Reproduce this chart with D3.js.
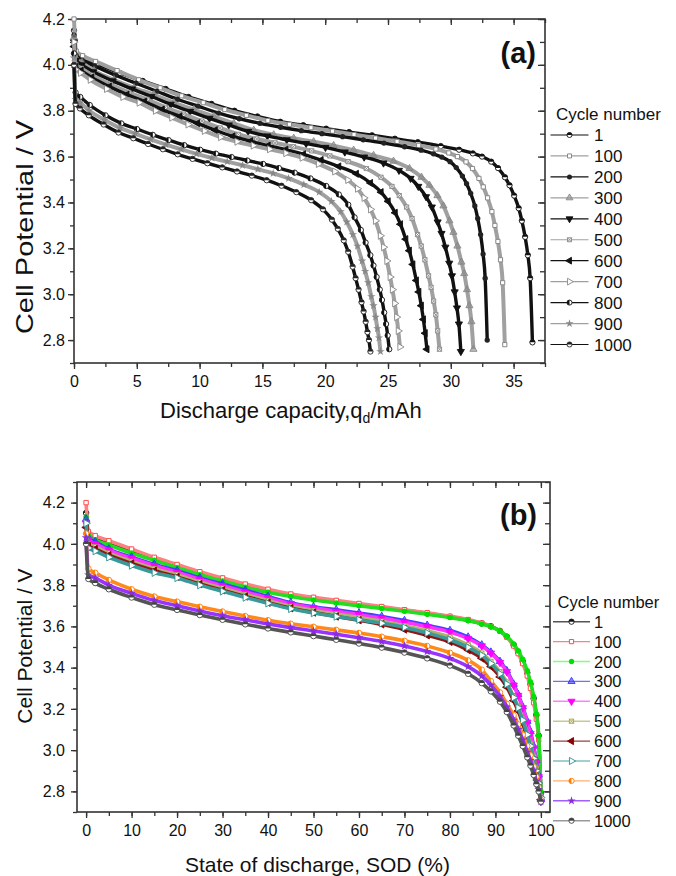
<!DOCTYPE html>
<html><head><meta charset="utf-8">
<script src="https://cdn.jsdelivr.net/npm/d3@7"></script>
<style>
body{margin:0;background:#fff}
text{font-family:"Liberation Sans",Arial,sans-serif;fill:#111}
</style>
</head><body>
<svg id="c" width="676" height="876"></svg>
<script>
// ---------------- data ----------------
const cycles = ["1","100","200","300","400","500","600","700","800","900","1000"];
const capacity = [36.5, 34.3, 32.9, 31.8, 30.8, 29.1, 28.1, 25.95, 25.1, 24.4, 23.6]; // mAh at end of discharge
const sod = [0, 0.5, 2, 5, 10, 15, 20, 25, 30, 35, 40, 45, 50, 55, 60, 65, 70, 75, 80, 84, 87, 89, 91, 92.5, 94, 95, 96, 97, 97.7, 98.4, 99, 99.5, 100];
const v1    = [4.15,4.05,4.03,4.005,3.965,3.93,3.895,3.86,3.83,3.80,3.775,3.752,3.737,3.722,3.707,3.693,3.678,3.663,3.646,3.63,3.614,3.60,3.578,3.55,3.51,3.475,3.43,3.375,3.32,3.25,3.17,3.07,2.79];
const v100  = [4.20,4.06,4.04,4.015,3.975,3.935,3.90,3.865,3.835,3.805,3.78,3.757,3.741,3.726,3.711,3.696,3.681,3.666,3.649,3.633,3.616,3.60,3.577,3.548,3.505,3.468,3.42,3.36,3.30,3.23,3.15,3.05,2.78];
const v200  = [4.13,4.04,4.02,3.995,3.955,3.92,3.885,3.85,3.82,3.79,3.765,3.745,3.728,3.713,3.70,3.687,3.673,3.659,3.643,3.628,3.612,3.598,3.578,3.552,3.515,3.482,3.44,3.385,3.33,3.26,3.175,3.07,2.80];
const v300  = [4.12,4.03,4.01,3.975,3.935,3.90,3.87,3.835,3.805,3.775,3.745,3.715,3.695,3.68,3.665,3.648,3.628,3.605,3.58,3.548,3.51,3.475,3.43,3.385,3.32,3.27,3.21,3.14,3.09,3.02,2.95,2.88,2.76];
const v400  = [4.10,4.02,4.00,3.97,3.93,3.895,3.862,3.828,3.797,3.767,3.738,3.71,3.69,3.673,3.657,3.64,3.62,3.598,3.572,3.54,3.505,3.47,3.425,3.38,3.315,3.265,3.205,3.135,3.08,3.01,2.94,2.87,2.75];
const v500  = [4.09,4.00,3.985,3.955,3.915,3.88,3.85,3.815,3.785,3.755,3.725,3.697,3.677,3.66,3.643,3.625,3.603,3.578,3.548,3.51,3.47,3.43,3.38,3.33,3.26,3.21,3.15,3.08,3.03,2.97,2.91,2.84,2.76];
const v600  = [4.08,3.99,3.975,3.945,3.905,3.87,3.84,3.805,3.775,3.745,3.715,3.688,3.667,3.648,3.63,3.61,3.585,3.557,3.525,3.485,3.445,3.405,3.355,3.305,3.24,3.19,3.13,3.06,3.01,2.95,2.89,2.83,2.76];
const v700  = [4.10,3.98,3.965,3.935,3.895,3.86,3.835,3.80,3.77,3.74,3.712,3.685,3.665,3.648,3.632,3.615,3.595,3.568,3.535,3.498,3.46,3.42,3.37,3.32,3.255,3.205,3.145,3.075,3.02,2.96,2.90,2.84,2.77];
const v800  = [4.05,3.88,3.86,3.825,3.78,3.745,3.72,3.695,3.672,3.65,3.63,3.613,3.598,3.583,3.568,3.55,3.53,3.505,3.472,3.435,3.39,3.335,3.28,3.225,3.17,3.125,3.075,3.02,2.975,2.92,2.87,2.82,2.76];
const v900  = [4.03,3.85,3.835,3.80,3.76,3.725,3.70,3.675,3.652,3.632,3.612,3.594,3.578,3.562,3.545,3.527,3.505,3.478,3.445,3.405,3.36,3.315,3.26,3.21,3.145,3.10,3.05,2.99,2.95,2.90,2.85,2.81,2.75];
const v1000 = [4.00,3.83,3.81,3.78,3.74,3.705,3.68,3.655,3.632,3.61,3.59,3.571,3.553,3.535,3.517,3.497,3.473,3.445,3.41,3.37,3.325,3.285,3.235,3.185,3.12,3.07,3.02,2.965,2.925,2.88,2.835,2.80,2.75];
const voltages = [v1,v100,v200,v300,v400,v500,v600,v700,v800,v900,v1000];

const yTicks = [2.8,3.0,3.2,3.4,3.6,3.8,4.0,4.2];
const xTicksA = [0,5,10,15,20,25,30,35];
const xTicksB = [0,10,20,30,40,50,60,70,80,90,100];

// ---------------- styles ----------------
const markerTypes = ["half","square","dot","tri","triDown","squareX","triLeft","triRight","halfL","star","halfT"];
const greyLine = ["#111","#a0a0a0","#111","#a0a0a0","#111","#a0a0a0","#111","#a0a0a0","#111","#a0a0a0","#111"];
const greyMark = ["#111","#888","#222","#888","#111","#888","#111","#888","#111","#888","#222"];
const colLine  = ["#222","#ff8080","#22dd22","#4040ff","#ff33ff","#b0b070","#8b1a1a","#3a9a9a","#ff8a1a","#9933ff","#555"];
const colMark  = ["#111","#ff4d4d","#00e000","#3333ff","#ff00ff","#a0a050","#8b0000","#2a8f8f","#ff7f00","#8a2be2","#444"];
const colLegLine = ["#555","#ff8080","#80ff80","#7070ff","#ff80ff","#c8c890","#9a4040","#80c0c0","#ffb070","#a060ff","#999"];

const svg = d3.select("#c");

function marker(g, type, color, size){
  const r = Math.sqrt(size/Math.PI);
  const S = (t,sz)=>d3.symbol().type(t).size(sz||size)();
  if(type==="half"||type==="halfL"||type==="halfT"){
    g.append("circle").attr("r",r).attr("fill","#fff").attr("stroke",color).attr("stroke-width",0.9);
    const a0 = type==="halfL"? Math.PI : -Math.PI/2;
    const a1 = type==="halfL"? 2*Math.PI : Math.PI/2;
    g.append("path").attr("d", d3.arc()({innerRadius:0,outerRadius:r,startAngle:a0,endAngle:a1})).attr("fill",color);
  } else if(type==="square"){
    g.append("path").attr("d",S(d3.symbolSquare, size*0.8)).attr("fill","#fff").attr("stroke",color).attr("stroke-width",1);
  } else if(type==="dot"){
    g.append("path").attr("d",S(d3.symbolCircle)).attr("fill",color);
  } else if(type==="tri"||type==="triDown"||type==="triLeft"||type==="triRight"){
    const rot = {tri:0,triDown:180,triLeft:-90,triRight:90}[type];
    const open = type==="triRight";
    g.append("path").attr("d",S(d3.symbolTriangle)).attr("transform",`rotate(${rot})`)
      .attr("fill",open?"#fff":color).attr("fill-opacity",type==="tri"?0.55:1)
      .attr("stroke",color).attr("stroke-width",0.9);
  } else if(type==="squareX"){
    g.append("path").attr("d",S(d3.symbolSquare, size*0.8)).attr("fill","#fff").attr("stroke",color).attr("stroke-width",0.9);
    g.append("path").attr("d",S(d3.symbolTimes||d3.symbolCross, size*0.7)).attr("fill","none").attr("stroke",color).attr("stroke-width",0.9);
  } else if(type==="star"){
    g.append("path").attr("d",S(d3.symbolStar)).attr("fill",color);
  }
}

function drawPanel(cfg){
  const {x, y, top, bottom, left, right, xMinor, xMajor, yMinor, yMajor, xFmt, lblPadX, lblPadY} = cfg;
  const g = svg.append("g");
  g.append("g").attr("transform",`translate(0,${bottom})`)
    .call(d3.axisBottom(x).tickValues(xMinor).tickFormat("").tickSize(4).tickSizeOuter(0));
  g.append("g").attr("transform",`translate(0,${bottom})`)
    .call(d3.axisBottom(x).tickValues(xMajor).tickFormat(xFmt).tickSize(6).tickPadding(lblPadX).tickSizeOuter(0));
  g.append("g").attr("transform",`translate(0,${top})`)
    .call(d3.axisTop(x).tickValues(xMinor).tickFormat("").tickSize(-4).tickSizeOuter(0));
  g.append("g").attr("transform",`translate(0,${top})`)
    .call(d3.axisTop(x).tickValues(xMajor).tickFormat("").tickSize(-6).tickSizeOuter(0));
  g.append("g").attr("transform",`translate(${left},0)`)
    .call(d3.axisLeft(y).tickValues(yMinor).tickFormat("").tickSize(4).tickSizeOuter(0));
  g.append("g").attr("transform",`translate(${left},0)`)
    .call(d3.axisLeft(y).tickValues(yMajor).tickFormat(d3.format(".1f")).tickSize(6).tickPadding(lblPadY).tickSizeOuter(0));
  g.append("g").attr("transform",`translate(${right},0)`)
    .call(d3.axisRight(y).tickValues(yMinor).tickFormat("").tickSize(-5).tickSizeOuter(0));
  g.append("g").attr("transform",`translate(${right},0)`)
    .call(d3.axisRight(y).tickValues(yMajor).tickFormat("").tickSize(-7).tickSizeOuter(0));
  g.selectAll(".domain").remove();
  g.selectAll(".tick line").attr("stroke","#333").attr("stroke-width",1.3);
  g.selectAll(".tick text").attr("font-size",16).attr("font-family","Liberation Sans, Arial, sans-serif").attr("fill","#111");
  g.append("rect").attr("x",left).attr("y",top).attr("width",right-left).attr("height",bottom-top)
    .attr("fill","none").attr("stroke","#333").attr("stroke-width",1.6);
  return g;
}

// ================= Panel (a) =================
const xA = d3.scaleLinear().domain([0,37.5]).range([74,545]);
const yA = d3.scaleLinear().domain([2.7,4.2]).range([363,19]);
const minorA = d3.range(0,37.5+0.001,2.5);
const yMinor = d3.range(2.7,4.2+0.001,0.1).map(v=>+v.toFixed(1));
drawPanel({x:xA,y:yA,top:19,bottom:363,left:74,right:545,xMinor:minorA,xMajor:xTicksA,
  yMinor:yMinor,yMajor:yTicks,xFmt:d3.format("d"),lblPadX:6.5,lblPadY:3});

const plotA = svg.append("g");
cycles.forEach((c,i)=>{
  const pts = sod.map((s,j)=>[capacity[i]*s/100, voltages[i][j]]);
  plotA.append("path").datum(pts)
    .attr("d", d3.line().x(d=>xA(d[0])).y(d=>yA(d[1])).curve(d3.curveMonotoneX))
    .attr("fill","none").attr("stroke",greyLine[i]).attr("stroke-width",i%2? 4:3.4);
  pts.forEach(p=>{
    const mg = plotA.append("g").attr("transform",`translate(${xA(p[0])},${yA(p[1])})`);
    marker(mg, markerTypes[i], greyMark[i], 22);
  });
});

svg.append("text").attr("x",536).attr("y",63).attr("text-anchor","end")
  .attr("font-size",29).attr("font-weight","bold").text("(a)");

const tA = svg.append("text").attr("x",160).attr("y",418).attr("font-size",22);
tA.append("tspan").text("Discharge capacity,q");
tA.append("tspan").attr("font-size",14).attr("dy",5).text("d");
tA.append("tspan").attr("dy",-5).text("/mAh");
svg.append("text").attr("transform","translate(33,227) rotate(-90) scale(1.26,1)").attr("text-anchor","middle")
  .attr("font-size",23).text("Cell Potential / V");

const legA = svg.append("g");
legA.append("text").attr("x",556).attr("y",120).attr("font-size",17).text("Cycle number");
cycles.forEach((c,i)=>{
  const yy = 135 + i*20.95;
  legA.append("line").attr("x1",550.5).attr("x2",588.5).attr("y1",yy).attr("y2",yy)
    .attr("stroke",greyLine[i]).attr("stroke-width",1.2);
  marker(legA.append("g").attr("transform",`translate(569.5,${yy})`), markerTypes[i], greyMark[i], 20);
  legA.append("text").attr("x",594).attr("y",yy+6).attr("font-size",17).text(c);
});

// ================= Panel (b) =================
const xB = d3.scaleLinear().domain([-2,102]).range([77,550]);
const yB = d3.scaleLinear().domain([2.7,4.3]).range([812,482]);
const minorB = d3.range(0,100+0.001,5);
const yMinorB = d3.range(2.7,4.3+0.001,0.1).map(v=>+v.toFixed(1));
drawPanel({x:xB,y:yB,top:482,bottom:812,left:77,right:550,xMinor:minorB,xMajor:xTicksB,
  yMinor:yMinorB,yMajor:yTicks,xFmt:d3.format("d"),lblPadX:6.5,lblPadY:6});

const plotB = svg.append("g");
cycles.forEach((c,i)=>{
  const pts = sod.map((s,j)=>[s, voltages[i][j]]);
  plotB.append("path").datum(pts)
    .attr("d", d3.line().x(d=>xB(d[0])).y(d=>yB(d[1])).curve(d3.curveMonotoneX))
    .attr("fill","none").attr("stroke",colLine[i]).attr("stroke-width",3.6);
  pts.forEach(p=>{
    const mg = plotB.append("g").attr("transform",`translate(${xB(p[0])},${yB(p[1])})`);
    marker(mg, markerTypes[i], colMark[i], 24);
  });
});

svg.append("text").attr("x",537).attr("y",525).attr("text-anchor","end")
  .attr("font-size",29).attr("font-weight","bold").text("(b)");

svg.append("text").attr("x",185).attr("y",872).attr("font-size",21).text("State of discharge, SOD (%)");
svg.append("text").attr("transform","translate(32,646) rotate(-90)").attr("text-anchor","middle")
  .attr("font-size",21).text("Cell Potential / V");

const legB = svg.append("g");
legB.append("text").attr("x",557.5).attr("y",608).attr("font-size",16.5).text("Cycle number");
cycles.forEach((c,i)=>{
  const yy = 621.7 + i*19.9;
  legB.append("line").attr("x1",553).attr("x2",590).attr("y1",yy).attr("y2",yy)
    .attr("stroke",colLegLine[i]).attr("stroke-width",1.4);
  marker(legB.append("g").attr("transform",`translate(571.5,${yy})`), markerTypes[i], colMark[i], 22);
  legB.append("text").attr("x",594).attr("y",yy+6).attr("font-size",16.5).text(c);
});
</script>
</body></html>
